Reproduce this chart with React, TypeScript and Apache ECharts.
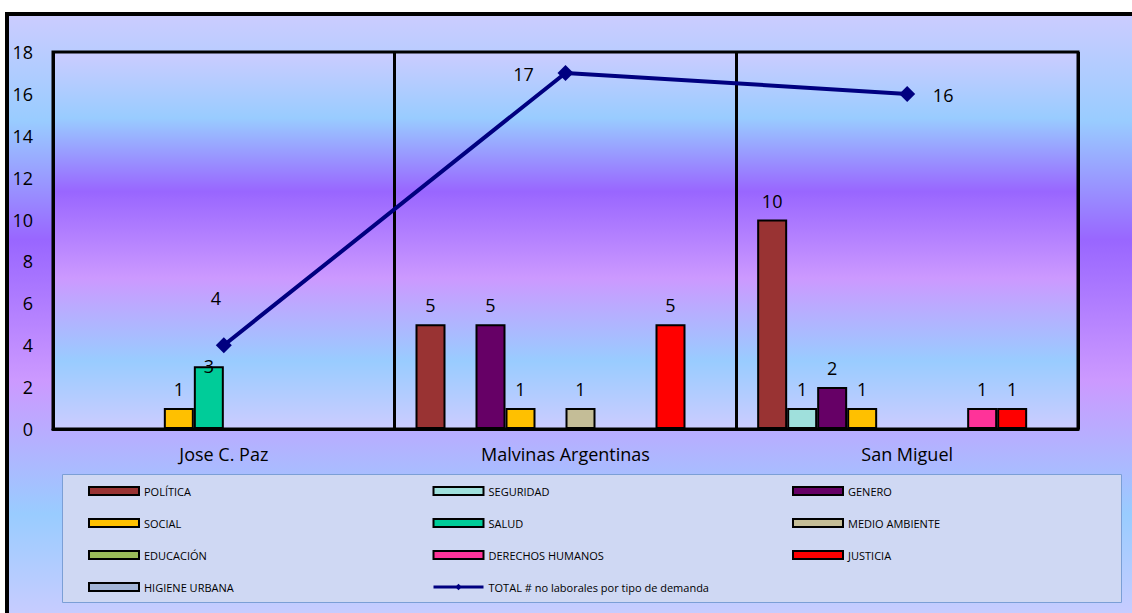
import React, { useEffect, useRef } from "react";
import * as echarts from "echarts";

const categories = ["Jose C. Paz", "Malvinas Argentinas", "San Miguel"];
const yTicks = { min: 0, max: 18, interval: 2 };

const politica = [null, 5, 10];
const seguridad = [null, null, 1];
const genero = [null, 5, 2];
const social = [1, 1, 1];
const salud = [3, null, null];
const medioAmbiente = [null, 1, null];
const educacion = [null, null, null];
const derechosHumanos = [null, null, 1];
const justicia = [null, 5, 1];
const higieneUrbana = [null, null, null];
const total = [4, 17, 16];

const barSeriesDefs = [
  { name: "POLÍTICA", data: politica, color: "#993333" },
  { name: "SEGURIDAD", data: seguridad, color: "#9fe0dc" },
  { name: "GENERO", data: genero, color: "#660066" },
  { name: "SOCIAL", data: social, color: "#ffc000" },
  { name: "SALUD", data: salud, color: "#00cc99" },
  { name: "MEDIO AMBIENTE", data: medioAmbiente, color: "#c4bd97" },
  { name: "EDUCACIÓN", data: educacion, color: "#9bbb59" },
  { name: "DERECHOS HUMANOS", data: derechosHumanos, color: "#ff3399" },
  { name: "JUSTICIA", data: justicia, color: "#ff0000" },
  { name: "HIGIENE URBANA", data: higieneUrbana, color: "#a3b5d8" },
];
const totalName = "TOTAL # no laborales por tipo de demanda";

// label tweaks (styling only)
const barLabelOffsets: Record<string, Record<number, number[]>> = {
  SALUD: { 0: [0, 19] },
};
const lineLabelOffsets = [
  [-8, -47],
  [-42, 1],
  [36, 1],
];

const FONT = "'Open Sans', Lato, sans-serif";

const calmWater = (x2: number, y2: number) => ({
  type: "linear",
  x: 0,
  y: 0,
  x2,
  y2,
  colorStops: [
    { offset: 0, color: "#ccccff" },
    { offset: 0.175, color: "#99ccff" },
    { offset: 0.37, color: "#9966ff" },
    { offset: 0.6, color: "#cc99ff" },
    { offset: 0.82, color: "#99ccff" },
    { offset: 1, color: "#ccccff" },
  ],
});

export default function App() {
  const ref = useRef<HTMLDivElement>(null);
  useEffect(() => {
    if (!ref.current) return;
    const chart = echarts.init(ref.current, undefined, { renderer: "svg" });

    const barSeries = barSeriesDefs.map((d) => ({
      name: d.name,
      type: "bar",
      barWidth: 30,
      barGap: "0%",
      itemStyle: { color: d.color, borderColor: "#000", borderWidth: 2 },
      label: {
        show: true,
        position: "top",
        distance: 10,
        fontSize: 18,
        fontFamily: FONT,
        color: "#000",
      },
      z: 3,
      data: d.data.map((v, i) => {
        const off = barLabelOffsets[d.name] && barLabelOffsets[d.name][i];
        if (v === null) return null;
        return off ? { value: v, label: { offset: off } } : v;
      }),
    }));

    const lineSeries = {
      name: totalName,
      type: "line",
      symbol: "diamond",
      symbolSize: 16,
      lineStyle: { color: "#000080", width: 4 },
      itemStyle: { color: "#000080" },
      z: 5,
      label: {
        show: true,
        position: "inside",
        fontSize: 18,
        fontFamily: FONT,
        color: "#000",
      },
      data: total.map((v, i) => ({ value: v, label: { offset: lineLabelOffsets[i] } })),
    };

    const legendCols = [
      ["POLÍTICA", "SOCIAL", "EDUCACIÓN", "HIGIENE URBANA"],
      ["SEGURIDAD", "SALUD", "DERECHOS HUMANOS", totalName],
      ["GENERO", "MEDIO AMBIENTE", "JUSTICIA"],
    ];
    const legendLefts = [88, 432, 792];

    const legends = legendCols.map((col, ci) => ({
      orient: "vertical",
      left: legendLefts[ci],
      top: 484,
      itemWidth: 50,
      itemHeight: 8,
      itemGap: 18,
      padding: 0,
      lineStyle: { width: 3 },
      textStyle: { fontSize: 11, fontFamily: FONT, color: "#000", lineHeight: 14 },
      selectedMode: false,
      data: col.map((n) => (n === totalName ? { name: n } : { name: n, icon: "rect" })),
    }));

    chart.setOption({
      animation: false,
      backgroundColor: "#ffffff",
      graphic: [
        {
          type: "rect",
          z: -10,
          silent: true,
          shape: { x: 7, y: 14, width: 1140, height: 610 },
          style: { fill: calmWater(0, 1), stroke: "#000", lineWidth: 4 },
        },
        {
          type: "rect",
          z: -9,
          silent: true,
          shape: { x: 62.5, y: 474.5, width: 1059, height: 128 },
          style: { fill: "#cfd8f3", stroke: "#7b9fd6", lineWidth: 1 },
        },
      ],
      legend: legends,
      grid: {
        left: 53,
        top: 52,
        width: 1025,
        height: 377,
        show: true,
        backgroundColor: calmWater(0, 1),
        borderColor: "#000",
        borderWidth: 3,
      },
      xAxis: {
        type: "category",
        data: categories,
        axisLine: { show: true, lineStyle: { color: "#000", width: 3 } },
        axisTick: { show: false },
        splitLine: { show: true, lineStyle: { color: "#000", width: 3 } },
        axisLabel: { fontSize: 18, fontFamily: FONT, color: "#000", margin: 16 },
      },
      yAxis: {
        type: "value",
        min: yTicks.min,
        max: yTicks.max,
        interval: yTicks.interval,
        axisLine: { show: false },
        axisTick: { show: false },
        splitLine: { show: false },
        axisLabel: { fontSize: 18, fontFamily: FONT, color: "#000", margin: 20 },
      },
      series: [...barSeries, lineSeries],
    });
    return () => chart.dispose();
  }, []);
  return (
    <div
      ref={ref}
      style={{ position: "absolute", left: 0, top: 0, width: 1132, height: 613 }}
    />
  );
}
